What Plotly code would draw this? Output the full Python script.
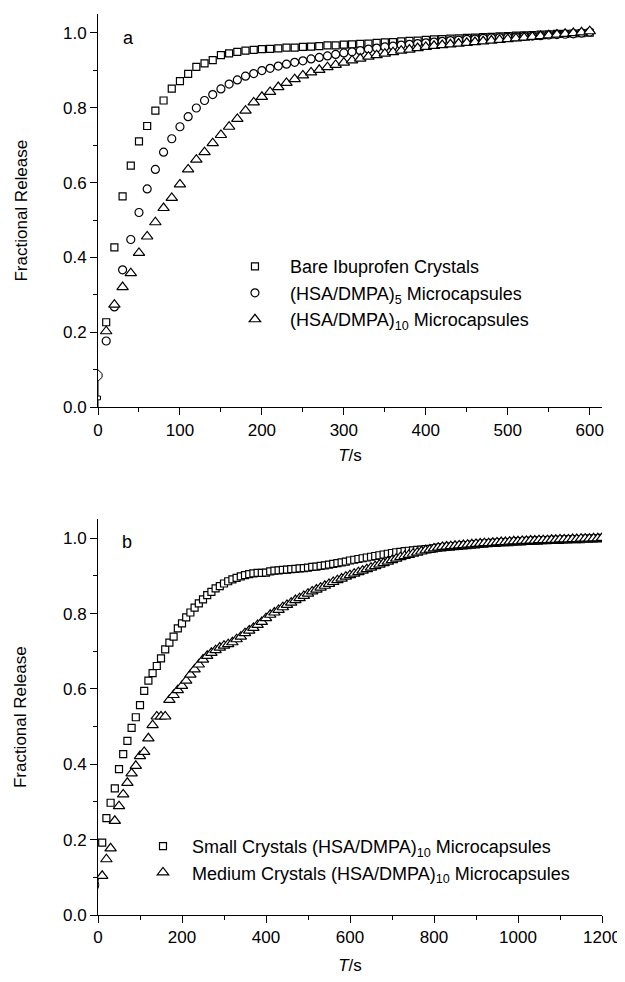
import plotly.graph_objects as go

# --- Panel a: release over 600 s (sampled every 10 s) ---
t_a = list(range(10, 610, 10))
bare_crystals = [0.227, 0.427, 0.563, 0.645, 0.710, 0.751, 0.792, 0.819, 0.851, 0.871,
                 0.890, 0.909, 0.918, 0.927, 0.940, 0.945, 0.949, 0.952, 0.954, 0.956,
                 0.957, 0.958, 0.960, 0.960, 0.962, 0.963, 0.964, 0.966, 0.966, 0.968,
                 0.969, 0.970, 0.971, 0.973, 0.974, 0.975, 0.977, 0.978, 0.979, 0.981,
                 0.982, 0.983, 0.984, 0.985, 0.986, 0.987, 0.988, 0.989, 0.990, 0.991,
                 0.992, 0.993, 0.994, 0.995, 0.996, 0.997, 0.997, 0.998, 0.999, 1.000]
hsa5 = [0.177, 0.268, 0.367, 0.448, 0.520, 0.583, 0.635, 0.681, 0.717, 0.749,
        0.776, 0.799, 0.819, 0.835, 0.850, 0.863, 0.874, 0.884, 0.891, 0.899,
        0.905, 0.911, 0.916, 0.921, 0.925, 0.930, 0.934, 0.938, 0.942, 0.946,
        0.949, 0.952, 0.956, 0.959, 0.962, 0.964, 0.967, 0.969, 0.971, 0.973,
        0.975, 0.977, 0.979, 0.980, 0.982, 0.983, 0.985, 0.986, 0.987, 0.988,
        0.989, 0.990, 0.991, 0.992, 0.994, 0.995, 0.996, 0.997, 0.999, 1.002]
hsa10 = [0.203, 0.274, 0.321, 0.358, 0.412, 0.456, 0.494, 0.532, 0.559, 0.595,
         0.635, 0.661, 0.681, 0.705, 0.727, 0.749, 0.770, 0.792, 0.814, 0.829,
         0.842, 0.855, 0.866, 0.876, 0.886, 0.894, 0.901, 0.908, 0.914, 0.920,
         0.926, 0.931, 0.936, 0.940, 0.944, 0.948, 0.952, 0.955, 0.959, 0.962,
         0.965, 0.967, 0.969, 0.971, 0.973, 0.975, 0.977, 0.979, 0.981, 0.983,
         0.985, 0.987, 0.989, 0.991, 0.993, 0.995, 0.997, 0.999, 1.001, 1.004]
# trace at t~0 (instrument start)
t0_a = [0, 0, 3, 3, 0, 0, 5, 5, 0]
v0_a = [0.0, 0.02, 0.02, 0.03, 0.03, 0.07, 0.08, 0.09, 0.10]

# --- Panel b: release over 1200 s (sampled every 10 s) ---
t_b = list(range(10, 1210, 10))
small_crystals = [0.192, 0.257, 0.298, 0.336, 0.387, 0.427, 0.462, 0.497, 0.525, 0.557,
                  0.595, 0.622, 0.642, 0.661, 0.681, 0.705, 0.723, 0.739, 0.761, 0.774,
                  0.790, 0.803, 0.816, 0.827, 0.838, 0.849, 0.858, 0.867, 0.873, 0.880,
                  0.886, 0.891, 0.895, 0.899, 0.902, 0.905, 0.907, 0.908, 0.908, 0.909,
                  0.912, 0.914, 0.915, 0.916, 0.917, 0.918, 0.919, 0.920, 0.921, 0.922,
                  0.924, 0.925, 0.927, 0.928, 0.930, 0.932, 0.934, 0.936, 0.938, 0.941,
                  0.943, 0.945, 0.947, 0.949, 0.951, 0.953, 0.955, 0.957, 0.959, 0.961,
                  0.963, 0.964, 0.966, 0.967, 0.968, 0.969, 0.970, 0.971, 0.972, 0.973,
                  0.975, 0.976, 0.977, 0.978, 0.979, 0.980, 0.981, 0.982, 0.983, 0.984,
                  0.985, 0.986, 0.987, 0.988, 0.988, 0.989, 0.990, 0.990, 0.991, 0.992,
                  0.992, 0.993, 0.993, 0.994, 0.994, 0.995, 0.995, 0.996, 0.996, 0.996,
                  0.997, 0.997, 0.998, 0.998, 0.998, 0.999, 0.999, 1.000, 1.000, 1.001]
medium_crystals = [0.104, 0.148, 0.177, 0.250, 0.289, 0.320, 0.351, 0.376, 0.396, 0.422,
                   0.433, 0.469, 0.504, 0.527, 0.527, 0.527, 0.571, 0.584, 0.597, 0.608,
                   0.622, 0.638, 0.652, 0.665, 0.678, 0.688, 0.696, 0.703, 0.710, 0.715,
                   0.719, 0.724, 0.732, 0.739, 0.748, 0.755, 0.762, 0.770, 0.778, 0.788,
                   0.797, 0.803, 0.810, 0.817, 0.823, 0.829, 0.836, 0.841, 0.847, 0.853,
                   0.859, 0.864, 0.869, 0.874, 0.879, 0.884, 0.889, 0.893, 0.898, 0.902,
                   0.906, 0.910, 0.914, 0.918, 0.922, 0.926, 0.930, 0.934, 0.938, 0.942,
                   0.946, 0.950, 0.953, 0.956, 0.959, 0.962, 0.965, 0.968, 0.970, 0.973,
                   0.975, 0.977, 0.978, 0.979, 0.980, 0.981, 0.982, 0.983, 0.984, 0.985,
                   0.986, 0.987, 0.987, 0.988, 0.989, 0.990, 0.990, 0.991, 0.992, 0.992,
                   0.993, 0.993, 0.994, 0.994, 0.995, 0.995, 0.995, 0.996, 0.996, 0.997,
                   0.997, 0.997, 0.998, 0.998, 0.999, 0.999, 0.999, 1.000, 1.000, 1.001]
t0_b = [0, 2, 0, 2]
v0_b = [0.07, 0.08, 0.09, 0.10]

FONT = "Liberation Sans, Arial, Helvetica, sans-serif"
mk = lambda sym, size: dict(symbol=sym, size=size, color="white",
                            line=dict(color="black", width=1.2))

fig = go.Figure()
fig.add_trace(go.Scatter(x=t0_a, y=v0_a, mode="lines", line=dict(color="black", width=1),
                         showlegend=False, xaxis="x", yaxis="y"))
fig.add_trace(go.Scatter(x=t_a, y=bare_crystals, mode="markers", marker=mk("square", 7),
                         name="Bare Ibuprofen Crystals", xaxis="x", yaxis="y", legend="legend"))
fig.add_trace(go.Scatter(x=t_a, y=hsa5, mode="markers", marker=mk("circle", 8),
                         name="(HSA/DMPA)<sub>5</sub> Microcapsules", xaxis="x", yaxis="y",
                         legend="legend"))
fig.add_trace(go.Scatter(x=t_a, y=hsa10, mode="markers", marker=mk("triangle-up", 10),
                         name="(HSA/DMPA)<sub>10</sub> Microcapsules", xaxis="x", yaxis="y",
                         legend="legend"))

fig.add_trace(go.Scatter(x=t0_b, y=v0_b, mode="lines", line=dict(color="black", width=1),
                         showlegend=False, xaxis="x2", yaxis="y2"))
fig.add_trace(go.Scatter(x=t_b, y=small_crystals, mode="markers", marker=mk("square", 7),
                         name="Small Crystals (HSA/DMPA)<sub>10</sub> Microcapsules",
                         xaxis="x2", yaxis="y2", legend="legend2"))
fig.add_trace(go.Scatter(x=t_b, y=medium_crystals, mode="markers",
                         marker=mk("triangle-up", 10),
                         name="Medium Crystals (HSA/DMPA)<sub>10</sub> Microcapsules",
                         xaxis="x2", yaxis="y2", legend="legend2"))

axis = dict(showline=True, linecolor="black", linewidth=1, ticks="outside", ticklen=7,
            tickwidth=1, tickcolor="black", showgrid=False, zeroline=False, automargin=False,
            tickfont=dict(family=FONT, size=17, color="black"))
title_font = dict(family=FONT, size=17, color="black")

fig.update_layout(
    width=617, height=974,
    margin=dict(l=90, r=23, t=6, b=67),
    plot_bgcolor="white", paper_bgcolor="white",
    font=dict(family=FONT, size=17, color="black"),
    xaxis=dict(axis, domain=[0, 1], range=[0, 615], dtick=100, anchor="y",
               minor=dict(ticks="outside", ticklen=4, dtick=50, tickcolor="black"),
               title=dict(text="<i>T</i>/s", font=title_font, standoff=10)),
    yaxis=dict(axis, domain=[0.5635, 1.0], range=[0, 1.05], dtick=0.2, tickformat=".1f",
               anchor="x",
               minor=dict(ticks="outside", ticklen=4, dtick=0.1, tickcolor="black"),
               title=dict(text="Fractional Release", font=title_font, standoff=31)),
    xaxis2=dict(axis, domain=[0, 1], range=[0, 1200], dtick=200, anchor="y2",
                minor=dict(ticks="outside", ticklen=4, dtick=100, tickcolor="black"),
                title=dict(text="<i>T</i>/s", font=title_font, standoff=12)),
    yaxis2=dict(axis, domain=[0, 0.439], range=[0, 1.05], dtick=0.2, tickformat=".1f",
                anchor="x2",
                minor=dict(ticks="outside", ticklen=4, dtick=0.1, tickcolor="black"),
                title=dict(text="Fractional Release", font=title_font, standoff=31)),
    legend=dict(x=0.242, y=0.740, xanchor="left", yanchor="top", bgcolor="rgba(0,0,0,0)",
                font=dict(family=FONT, size=18), itemwidth=60),
    legend2=dict(x=0.0714, y=0.0967, xanchor="left", yanchor="top", bgcolor="rgba(0,0,0,0)",
                 font=dict(family=FONT, size=18), itemwidth=48),
    annotations=[
        dict(text="a", x=37, y=0.985, xref="x", yref="y", showarrow=False,
             font=dict(family=FONT, size=18)),
        dict(text="b", x=70, y=0.99, xref="x2", yref="y2", showarrow=False,
             font=dict(family=FONT, size=18)),
    ],
)

fig.write_html("out.html")
